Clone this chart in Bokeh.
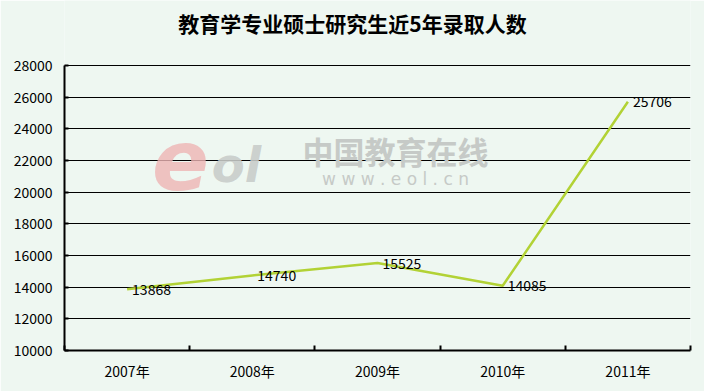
from bokeh.plotting import figure
from bokeh.models import Range1d, FixedTicker, Label, ColumnDataSource
from bokeh.embed import file_html
from bokeh.resources import INLINE
from bokeh.core.properties import value

# ---- data ----
years = ["2007年", "2008年", "2009年", "2010年", "2011年"]
admitted = [13868, 14740, 15525, 14085, 25706]
y_ticks = [10000, 12000, 14000, 16000, 18000, 20000, 22000, 24000, 26000, 28000]
title_text = "教育学专业硕士研究生近5年录取人数"

BG = "#EEF7F1"
FONT = "Noto Sans CJK SC"

# layout: the value axis occupies 285 px of a 350 px frame; the space above holds the title
axis_px, frame_px = 285.0, 350.0
y_lo, y_hi = y_ticks[0], y_ticks[-1]
y_top = y_lo + (y_hi - y_lo) * frame_px / axis_px

xs = [i + 0.5 for i in range(len(years))]
src = ColumnDataSource(dict(x=xs, y=admitted, label=[str(v) for v in admitted]))

p = figure(width=704, height=391, output_backend="svg", toolbar_location=None,
           x_range=Range1d(0, len(years)), y_range=Range1d(y_lo, y_top),
           min_border_left=64, min_border_right=14, min_border_top=0, min_border_bottom=41,
           background_fill_color=BG, border_fill_color=BG, outline_line_color=None)
p.title.visible = False

# title
p.add_layout(Label(x=288, y=328, x_units="screen", y_units="screen", text=title_text,
                   text_align="center", text_baseline="middle", text_font=FONT,
                   text_font_style="bold", text_font_size="21px", text_color="black"))

# watermark
p.add_layout(Label(x=116, y=192, x_units="screen", y_units="screen", text="e",
                   text_align="center", text_baseline="middle", text_font="DejaVu Sans",
                   text_font_style="bold italic", text_font_size="84px",
                   text_color="#EDB4B4", text_alpha=0.8))
p.add_layout(Label(x=172, y=186, x_units="screen", y_units="screen", text="ol",
                   text_align="center", text_baseline="middle", text_font="DejaVu Sans",
                   text_font_style="bold italic", text_font_size="48px",
                   text_color="#C8CCC9", text_alpha=0.9))
p.add_layout(Label(x=331, y=200, x_units="screen", y_units="screen", text="中国教育在线",
                   text_align="center", text_baseline="middle", text_font=FONT,
                   text_font_style="bold", text_font_size="31px", text_color="#C6CAC7"))
p.add_layout(Label(x=331, y=172, x_units="screen", y_units="screen", text="w w w . e o l . c n",
                   text_align="center", text_baseline="middle", text_font="DejaVu Sans",
                   text_font_size="17px", text_color="#C6CAC7"))

# axes
p.xaxis.ticker = FixedTicker(ticks=xs, minor_ticks=list(range(len(years) + 1)))
p.xaxis.major_label_overrides = {x: lab for x, lab in zip(xs, years)}
p.xaxis.major_tick_in = 0
p.xaxis.major_tick_out = 0
p.xaxis.minor_tick_in = 5
p.xaxis.minor_tick_out = 0
p.xaxis.minor_tick_line_color = "black"
p.xaxis.minor_tick_line_width = 2
p.xaxis.axis_line_color = "black"
p.xaxis.axis_line_width = 2
p.xaxis.major_label_standoff = 10
p.xaxis.major_label_text_font = FONT
p.xaxis.major_label_text_font_size = "14px"
p.xaxis.major_label_text_color = "black"

p.yaxis.ticker = FixedTicker(ticks=y_ticks)
p.yaxis.bounds = (y_lo, y_hi)
p.yaxis.major_tick_in = 4
p.yaxis.major_tick_out = 0
p.yaxis.major_tick_line_width = 2
p.yaxis.minor_tick_line_color = None
p.yaxis.axis_line_color = "black"
p.yaxis.axis_line_width = 2
p.yaxis.major_label_standoff = 12
p.yaxis.major_label_text_font = FONT
p.yaxis.major_label_text_font_size = "14px"
p.yaxis.major_label_text_color = "black"

p.xgrid.visible = False
p.ygrid.ticker = FixedTicker(ticks=y_ticks)
p.ygrid.grid_line_color = "black"
p.ygrid.grid_line_width = 1

p.line("x", "y", source=src, line_color="#B2D235", line_width=2.5)
p.text("x", "y", text="label", source=src, x_offset=5, text_baseline="middle",
       text_font=value(FONT), text_font_size="14px", text_color="black")

open("out.html", "w").write(file_html(p, INLINE))
